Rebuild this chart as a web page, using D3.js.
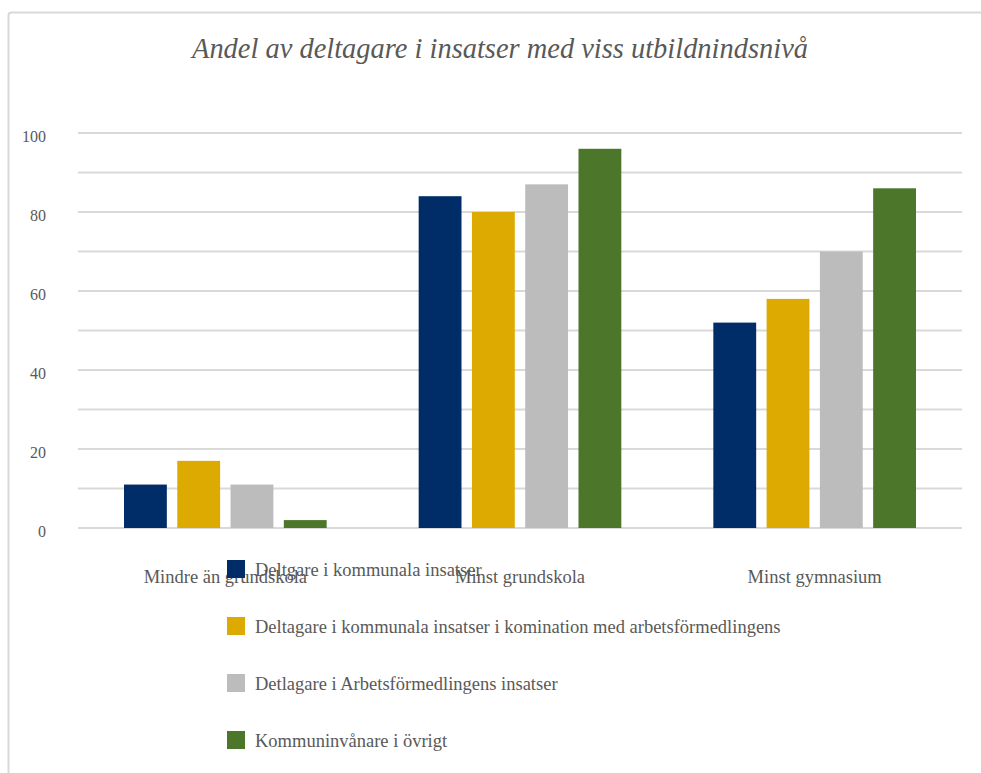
<!DOCTYPE html>
<html>
<head>
<meta charset="utf-8">
<script src="https://cdn.jsdelivr.net/npm/d3@7"></script>
<style>
  body { margin: 0; background: #fff; }
  svg { display: block; }
</style>
</head>
<body>
<svg width="981" height="773"></svg>
<script>
// data
var categories = ["Mindre än grundskola", "Minst grundskola", "Minst gymnasium"];
var series = [
  "Deltgare i kommunala insatser",
  "Deltagare i kommunala insatser i komination med arbetsförmedlingens",
  "Detlagare i Arbetsförmedlingens insatser",
  "Kommuninvånare i övrigt"
];
var values_kommunala = [11, 84, 52];
var values_kombination = [17, 80, 58];
var values_af = [11, 87, 70];
var values_ovrigt = [2, 96, 86];
var y_ticks = [0, 20, 40, 60, 80, 100];
var colors = ["#002d68", "#dcaa00", "#bbbcbb", "#4c772b"];

const LEFT = 78, RIGHT = 962, TOP = 133, BOTTOM = 528;
const TEXT_COLOR = "#595959";
const FONT = "'Liberation Serif', 'DejaVu Serif', serif";

var all_values = [values_kommunala, values_kombination, values_af, values_ovrigt];
var data = categories.map(function (c, i) {
  return { cat: c, vals: series.map(function (s, j) { return { s: s, v: all_values[j][i], k: j }; }) };
});

var svg = d3.select("svg");

// outer frame
svg.append("rect")
  .attr("x", 8.5).attr("y", 12.5)
  .attr("width", 990).attr("height", 800)
  .attr("rx", 3)
  .attr("fill", "none")
  .attr("stroke", "#d9d9d9")
  .attr("stroke-width", 2);

var x0 = d3.scaleBand().domain(categories).range([LEFT, RIGHT]);
var x1 = d3.scaleBand().domain(series)
  .range([46, x0.bandwidth() - 46])
  .paddingInner(0.196);
var y = d3.scaleLinear().domain([0, 100]).range([BOTTOM, TOP]);

// gridlines
svg.append("g")
  .selectAll("line")
  .data(d3.range(0, 101, 10))
  .enter()
  .append("line")
  .attr("x1", LEFT).attr("x2", RIGHT)
  .attr("y1", function (d) { return y(d); })
  .attr("y2", function (d) { return y(d); })
  .attr("stroke", "#d9d9d9")
  .attr("stroke-width", 2);

// y tick labels
var yAxis = d3.axisLeft(y).tickValues(y_ticks).tickSize(0).tickPadding(0);
var yg = svg.append("g")
  .attr("transform", "translate(46,3)")
  .call(yAxis);
yg.select(".domain").remove();
yg.selectAll("text")
  .attr("fill", TEXT_COLOR)
  .style("font-family", FONT)
  .style("font-size", "16px");

// bars
svg.append("g")
  .selectAll("g")
  .data(data)
  .enter()
  .append("g")
  .attr("transform", function (d) { return "translate(" + x0(d.cat) + ",0)"; })
  .selectAll("rect")
  .data(function (d) { return d.vals; })
  .enter()
  .append("rect")
  .attr("x", function (d) { return x1(d.s); })
  .attr("y", function (d) { return y(d.v); })
  .attr("width", x1.bandwidth())
  .attr("height", function (d) { return y(0) - y(d.v); })
  .attr("fill", function (d) { return colors[d.k]; });

// category labels
var xAxis = d3.axisBottom(x0).tickSize(0).tickPadding(0);
var xg = svg.append("g")
  .attr("transform", "translate(0,570)")
  .call(xAxis);
xg.select(".domain").remove();
xg.selectAll("text")
  .attr("fill", TEXT_COLOR)
  .style("font-family", FONT)
  .style("font-size", "18.5px");

// title
svg.append("text")
  .attr("x", 500)
  .attr("y", 58)
  .attr("text-anchor", "middle")
  .attr("fill", TEXT_COLOR)
  .attr("textLength", 616)
  .attr("lengthAdjust", "spacingAndGlyphs")
  .style("font-family", FONT)
  .style("font-style", "italic")
  .style("font-size", "29px")
  .text("Andel av deltagare i insatser med viss utbildnindsnivå");

// legend
var legend_y = d3.scalePoint().domain(series).range([569, 740]);
var lg = svg.append("g")
  .selectAll("g")
  .data(series)
  .enter()
  .append("g")
  .attr("transform", function (d) { return "translate(227," + legend_y(d) + ")"; });
lg.append("rect")
  .attr("x", 0).attr("y", -9)
  .attr("width", 18).attr("height", 18)
  .attr("fill", function (d, i) { return colors[i]; });
lg.append("text")
  .attr("x", 28)
  .attr("y", 7)
  .attr("fill", TEXT_COLOR)
  .style("font-family", FONT)
  .style("font-size", "18.5px")
  .text(function (d) { return d; });
</script>
</body>
</html>
